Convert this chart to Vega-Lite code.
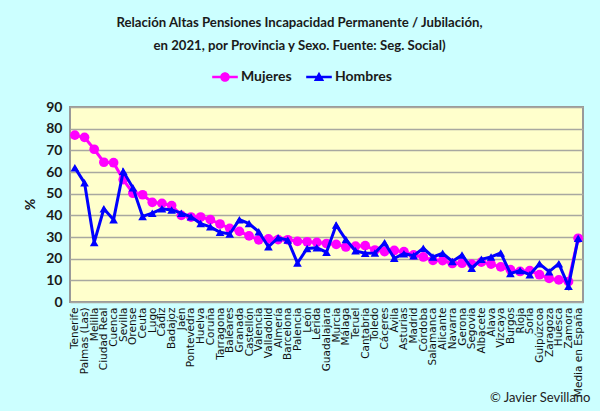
{
  "$schema": "https://vega.github.io/schema/vega-lite/v6.json",
  "width": 513,
  "height": 195,
  "autosize": {"type": "none"},
  "padding": {"left": 70, "top": 107, "right": 17, "bottom": 109},
  "background": "#ccffff",
  "title": {
    "text": ["Relación Altas Pensiones Incapacidad Permanente / Jubilación,", "en 2021, por Provincia y Sexo. Fuente: Seg. Social)"],
    "anchor": "middle",
    "frame": "group",
    "dx": -27,
    "offset": 16,
    "font": "Lato",
    "fontSize": 13.2,
    "fontWeight": "bold",
    "color": "#1a1a1a",
    "lineHeight": 23
  },
  "datasets": {
    "d": [
      {"provincia": "Tenerife", "sexo": "Mujeres", "valor": 77},
      {"provincia": "Palmas (Las)", "sexo": "Mujeres", "valor": 76},
      {"provincia": "Melilla", "sexo": "Mujeres", "valor": 70.5},
      {"provincia": "Ciudad Real", "sexo": "Mujeres", "valor": 64.5},
      {"provincia": "Cuenca", "sexo": "Mujeres", "valor": 64.3},
      {"provincia": "Sevilla", "sexo": "Mujeres", "valor": 56.5},
      {"provincia": "Orense", "sexo": "Mujeres", "valor": 50.2},
      {"provincia": "Ceuta", "sexo": "Mujeres", "valor": 49.5},
      {"provincia": "Lugo", "sexo": "Mujeres", "valor": 46},
      {"provincia": "Cádiz", "sexo": "Mujeres", "valor": 45.5},
      {"provincia": "Badajoz", "sexo": "Mujeres", "valor": 44.5},
      {"provincia": "Jaén", "sexo": "Mujeres", "valor": 40},
      {"provincia": "Pontevedra", "sexo": "Mujeres", "valor": 39.2},
      {"provincia": "Huelva", "sexo": "Mujeres", "valor": 39.2},
      {"provincia": "Coruña", "sexo": "Mujeres", "valor": 38},
      {"provincia": "Tarragona", "sexo": "Mujeres", "valor": 36},
      {"provincia": "Baleares", "sexo": "Mujeres", "valor": 34},
      {"provincia": "Granada", "sexo": "Mujeres", "valor": 32.6},
      {"provincia": "Castellón", "sexo": "Mujeres", "valor": 30.5},
      {"provincia": "Valencia", "sexo": "Mujeres", "valor": 28.7},
      {"provincia": "Valladolid", "sexo": "Mujeres", "valor": 29.1},
      {"provincia": "Almería", "sexo": "Mujeres", "valor": 28.8},
      {"provincia": "Barcelona", "sexo": "Mujeres", "valor": 28.7},
      {"provincia": "Palencia", "sexo": "Mujeres", "valor": 28},
      {"provincia": "León", "sexo": "Mujeres", "valor": 27.8},
      {"provincia": "Lérida", "sexo": "Mujeres", "valor": 27.5},
      {"provincia": "Guadalajara", "sexo": "Mujeres", "valor": 27},
      {"provincia": "Murcia", "sexo": "Mujeres", "valor": 26.6},
      {"provincia": "Málaga", "sexo": "Mujeres", "valor": 25.4},
      {"provincia": "Teruel", "sexo": "Mujeres", "valor": 25.8},
      {"provincia": "Cantabria", "sexo": "Mujeres", "valor": 26},
      {"provincia": "Toledo", "sexo": "Mujeres", "valor": 24},
      {"provincia": "Cáceres", "sexo": "Mujeres", "valor": 23.3},
      {"provincia": "Ávila", "sexo": "Mujeres", "valor": 23.8},
      {"provincia": "Asturias", "sexo": "Mujeres", "valor": 23.2},
      {"provincia": "Madrid", "sexo": "Mujeres", "valor": 21.7},
      {"provincia": "Córdoba", "sexo": "Mujeres", "valor": 20.8},
      {"provincia": "Salamanca", "sexo": "Mujeres", "valor": 19.2},
      {"provincia": "Alicante", "sexo": "Mujeres", "valor": 19.1},
      {"provincia": "Navarra", "sexo": "Mujeres", "valor": 17.8},
      {"provincia": "Gerona", "sexo": "Mujeres", "valor": 17.9},
      {"provincia": "Segovia", "sexo": "Mujeres", "valor": 17.5},
      {"provincia": "Albacete", "sexo": "Mujeres", "valor": 18.4},
      {"provincia": "Álava", "sexo": "Mujeres", "valor": 17.5},
      {"provincia": "Vizcaya", "sexo": "Mujeres", "valor": 16.2},
      {"provincia": "Burgos", "sexo": "Mujeres", "valor": 14.9},
      {"provincia": "Rioja", "sexo": "Mujeres", "valor": 14.1},
      {"provincia": "Soria", "sexo": "Mujeres", "valor": 14.5},
      {"provincia": "Guipúzcoa", "sexo": "Mujeres", "valor": 12.6},
      {"provincia": "Zaragoza", "sexo": "Mujeres", "valor": 10.9},
      {"provincia": "Huesca", "sexo": "Mujeres", "valor": 10.2},
      {"provincia": "Zamora", "sexo": "Mujeres", "valor": 9.4},
      {"provincia": "Media en España", "sexo": "Mujeres", "valor": 29.4},
      {"provincia": "Tenerife", "sexo": "Hombres", "valor": 62},
      {"provincia": "Palmas (Las)", "sexo": "Hombres", "valor": 55},
      {"provincia": "Melilla", "sexo": "Hombres", "valor": 27.5},
      {"provincia": "Ciudad Real", "sexo": "Hombres", "valor": 43},
      {"provincia": "Cuenca", "sexo": "Hombres", "valor": 38},
      {"provincia": "Sevilla", "sexo": "Hombres", "valor": 60.3},
      {"provincia": "Orense", "sexo": "Hombres", "valor": 52.7},
      {"provincia": "Ceuta", "sexo": "Hombres", "valor": 39.5},
      {"provincia": "Lugo", "sexo": "Hombres", "valor": 41},
      {"provincia": "Cádiz", "sexo": "Hombres", "valor": 43},
      {"provincia": "Badajoz", "sexo": "Hombres", "valor": 42.5},
      {"provincia": "Jaén", "sexo": "Hombres", "valor": 41},
      {"provincia": "Pontevedra", "sexo": "Hombres", "valor": 39.3},
      {"provincia": "Huelva", "sexo": "Hombres", "valor": 36.2},
      {"provincia": "Coruña", "sexo": "Hombres", "valor": 34.7},
      {"provincia": "Tarragona", "sexo": "Hombres", "valor": 32.2},
      {"provincia": "Baleares", "sexo": "Hombres", "valor": 31.4},
      {"provincia": "Granada", "sexo": "Hombres", "valor": 38},
      {"provincia": "Castellón", "sexo": "Hombres", "valor": 36.2},
      {"provincia": "Valencia", "sexo": "Hombres", "valor": 32.4},
      {"provincia": "Valladolid", "sexo": "Hombres", "valor": 25.5},
      {"provincia": "Almería", "sexo": "Hombres", "valor": 29.6},
      {"provincia": "Barcelona", "sexo": "Hombres", "valor": 28.6},
      {"provincia": "Palencia", "sexo": "Hombres", "valor": 18},
      {"provincia": "León", "sexo": "Hombres", "valor": 24.7},
      {"provincia": "Lérida", "sexo": "Hombres", "valor": 25},
      {"provincia": "Guadalajara", "sexo": "Hombres", "valor": 23},
      {"provincia": "Murcia", "sexo": "Hombres", "valor": 35.5},
      {"provincia": "Málaga", "sexo": "Hombres", "valor": 28.8},
      {"provincia": "Teruel", "sexo": "Hombres", "valor": 23.6},
      {"provincia": "Cantabria", "sexo": "Hombres", "valor": 22.5},
      {"provincia": "Toledo", "sexo": "Hombres", "valor": 22.6},
      {"provincia": "Cáceres", "sexo": "Hombres", "valor": 27.4},
      {"provincia": "Ávila", "sexo": "Hombres", "valor": 20.2},
      {"provincia": "Asturias", "sexo": "Hombres", "valor": 22.3},
      {"provincia": "Madrid", "sexo": "Hombres", "valor": 21.4},
      {"provincia": "Córdoba", "sexo": "Hombres", "valor": 24.8},
      {"provincia": "Salamanca", "sexo": "Hombres", "valor": 20.8},
      {"provincia": "Alicante", "sexo": "Hombres", "valor": 22.5},
      {"provincia": "Navarra", "sexo": "Hombres", "valor": 18.7},
      {"provincia": "Gerona", "sexo": "Hombres", "valor": 21.7},
      {"provincia": "Segovia", "sexo": "Hombres", "valor": 15.6},
      {"provincia": "Albacete", "sexo": "Hombres", "valor": 19.7},
      {"provincia": "Álava", "sexo": "Hombres", "valor": 20.8},
      {"provincia": "Vizcaya", "sexo": "Hombres", "valor": 22.6},
      {"provincia": "Burgos", "sexo": "Hombres", "valor": 13.2},
      {"provincia": "Rioja", "sexo": "Hombres", "valor": 14.5},
      {"provincia": "Soria", "sexo": "Hombres", "valor": 12.6},
      {"provincia": "Guipúzcoa", "sexo": "Hombres", "valor": 17.6},
      {"provincia": "Zaragoza", "sexo": "Hombres", "valor": 14},
      {"provincia": "Huesca", "sexo": "Hombres", "valor": 17.7},
      {"provincia": "Zamora", "sexo": "Hombres", "valor": 7.3},
      {"provincia": "Media en España", "sexo": "Hombres", "valor": 29.4}
    ]
  },
  "data": {"name": "d"},
  "encoding": {
    "x": {
      "field": "provincia",
      "type": "nominal",
      "sort": null,
      "scale": {"type": "point", "padding": 0.5},
      "axis": {
        "title": "© Javier Sevillano",
        "titleX": 520,
        "titleY": 95,
        "titleAlign": "right",
        "titleBaseline": "middle",
        "titleAngle": 0,
        "titleFont": "Lato",
        "titleFontSize": 13,
        "titleFontWeight": "normal",
        "titleColor": "#222222",
        "labelAngle": -90,
        "labelFont": "DejaVu Sans",
        "labelFontSize": 10.5,
        "labelColor": "#111111",
        "labelPadding": 5,
        "labelOverlap": false,
        "ticks": false,
        "domain": false,
        "grid": false
      }
    },
    "y": {
      "field": "valor",
      "type": "quantitative",
      "scale": {"domain": [0, 90], "nice": false},
      "axis": {
        "title": "%",
        "titleX": -40,
        "titleY": 97,
        "titleAngle": -90,
        "titleAlign": "center",
        "titleBaseline": "middle",
        "titleFont": "Lato",
        "titleFontSize": 14,
        "titleFontWeight": "bold",
        "titleColor": "#1a1a1a",
        "values": [0, 10, 20, 30, 40, 50, 60, 70, 80, 90],
        "labelFont": "Lato",
        "labelFontSize": 14,
        "labelFontWeight": "bold",
        "labelColor": "#1a1a1a",
        "labelPadding": 8,
        "ticks": false,
        "domain": false,
        "grid": true,
        "gridColor": "#a8a8a0",
        "gridWidth": 1.5
      }
    },
    "color": {
      "field": "sexo",
      "type": "nominal",
      "scale": {"domain": ["Mujeres", "Hombres"], "range": ["#ff00ff", "#0000ff"]},
      "legend": {
        "title": null,
        "orient": "none",
        "direction": "horizontal",
        "legendX": 147,
        "legendY": -38,
        "symbolSize": 256,
        "labelFont": "Lato",
        "labelFontSize": 14,
        "labelFontWeight": "bold",
        "labelColor": "#1a1a1a",
        "labelOffset": 8,
        "columnPadding": 14,
        "encode": {
          "symbols": {
            "update": {
              "shape": {"signal": "datum.value === 'Mujeres' ? 'M-1.6,-0.16H1.6V0.16H-1.6Z M-0.6,0A0.6,0.6 0 1,1 0.6,0A0.6,0.6 0 1,1 -0.6,0Z' : 'M-1.6,-0.16H1.6V0.16H-1.6Z M0,-0.65L0.65,0.5H-0.65Z'"},
              "fill": {"signal": "datum.value === 'Mujeres' ? '#ff00ff' : '#0000ff'"},
              "strokeWidth": {"value": 0},
              "opacity": {"value": 1}
            }
          }
        }
      }
    }
  },
  "layer": [
    {
      "transform": [{"filter": "datum.sexo === 'Mujeres'"}],
      "mark": {"type": "line", "strokeWidth": 3}
    },
    {
      "transform": [{"filter": "datum.sexo === 'Mujeres'"}],
      "mark": {"type": "point", "shape": "circle", "filled": true, "size": 95, "opacity": 1}
    },
    {
      "transform": [{"filter": "datum.sexo === 'Hombres'"}],
      "mark": {"type": "line", "strokeWidth": 3}
    },
    {
      "transform": [{"filter": "datum.sexo === 'Hombres'"}],
      "mark": {"type": "point", "shape": "triangle-up", "filled": true, "size": 75, "opacity": 1}
    }
  ],
  "config": {
    "view": {"fill": "#ffffcc", "stroke": "#999999", "strokeWidth": 2}
  }
}
